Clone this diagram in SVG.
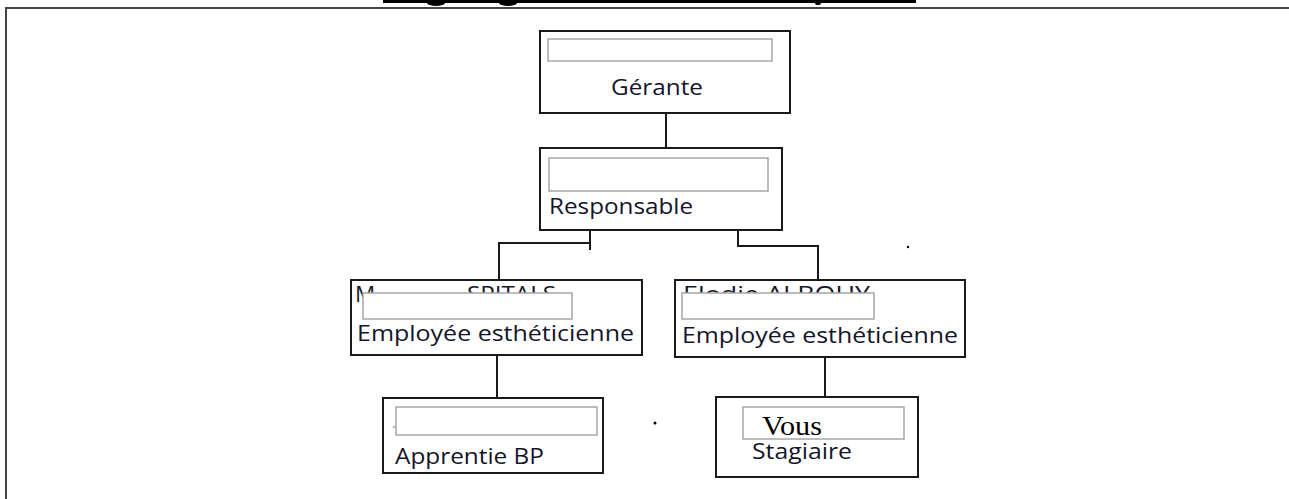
<svg xmlns="http://www.w3.org/2000/svg" width="1289" height="499" viewBox="0 0 1289 499">
<style>
.box{fill:#fff;stroke:#1a1a1a;stroke-width:2}
.field{fill:#fff;stroke:#a6a6a6;stroke-width:1.5}
.lbl{font-family:"Open Sans","Liberation Sans",sans-serif;font-size:22.5px;fill:#15152a}
.conn{fill:none;stroke:#1a1a1a;stroke-width:2}
.frame{fill:none;stroke:#444;stroke-width:2}
</style>
<rect width="1289" height="499" fill="#fff"/>
<g id="frame">
<rect x="383" y="0" width="533" height="3" fill="#000"/>
<ellipse cx="436" cy="3" rx="9" ry="3" fill="#000"/>
<ellipse cx="508" cy="3" rx="9" ry="3" fill="#000"/>
<ellipse cx="818" cy="3" rx="3" ry="2" fill="#000"/>
<path class="frame" d="M6,499 V8 H1289"/>
</g>
<g id="connectors">
<path class="conn" d="M666,113 V148"/>
<path class="conn" d="M590,230 V250 M590,243 H499 V280"/>
<path class="conn" d="M738,230 V246 H818 V280"/>
<path class="conn" d="M497,355 V398"/>
<path class="conn" d="M825,357 V397"/>
</g>
<g id="gerante">
<rect class="box" x="540" y="31" width="250" height="82"/>
<rect class="field" x="548" y="39" width="224" height="22"/>
<text class="lbl" x="611" y="95" textLength="92" lengthAdjust="spacingAndGlyphs">Gérante</text>
</g>
<g id="responsable">
<rect class="box" x="540" y="148" width="242" height="82"/>
<rect class="field" x="549" y="158" width="219" height="33"/>
<text class="lbl" x="549" y="214" textLength="144" lengthAdjust="spacingAndGlyphs">Responsable</text>
</g>
<g id="employee-left">
<rect class="box" x="351" y="280" width="291" height="75"/>
<text class="lbl" x="355" y="302">M</text>
<text class="lbl" x="467" y="302" textLength="89" lengthAdjust="spacingAndGlyphs">SPITALS</text>
<rect class="field" x="363" y="293" width="209" height="26"/>
<text class="lbl" x="357" y="341" textLength="277" lengthAdjust="spacingAndGlyphs">Employée esthéticienne</text>
</g>
<g id="employee-right">
<rect class="box" x="675" y="280" width="290" height="77"/>
<text class="lbl" x="683" y="302" textLength="187" lengthAdjust="spacingAndGlyphs">Elodie ALBOUY</text>
<rect class="field" x="682" y="293" width="192" height="26"/>
<text class="lbl" x="682" y="343" textLength="276" lengthAdjust="spacingAndGlyphs">Employée esthéticienne</text>
</g>
<g id="apprentie">
<rect class="box" x="383" y="398" width="220" height="75"/>
<rect class="field" x="396" y="407" width="201" height="28"/>
<circle cx="394" cy="427" r="0.8" fill="#a33"/>
<text class="lbl" x="395" y="464" textLength="149" lengthAdjust="spacingAndGlyphs">Apprentie BP</text>
</g>
<g id="stagiaire">
<rect class="box" x="716" y="397" width="202" height="80"/>
<rect class="field" x="743" y="407" width="161" height="32"/>
<text x="762" y="435" font-family="'Liberation Serif',serif" font-size="28" fill="#000" textLength="60" lengthAdjust="spacingAndGlyphs">Vous</text>
<text class="lbl" x="752" y="459" textLength="100" lengthAdjust="spacingAndGlyphs">Stagiaire</text>
</g>
<g id="marks">
<circle cx="908" cy="247" r="1.2" fill="#000"/>
<circle cx="655" cy="423" r="1.5" fill="#000"/>
</g>
</svg>
